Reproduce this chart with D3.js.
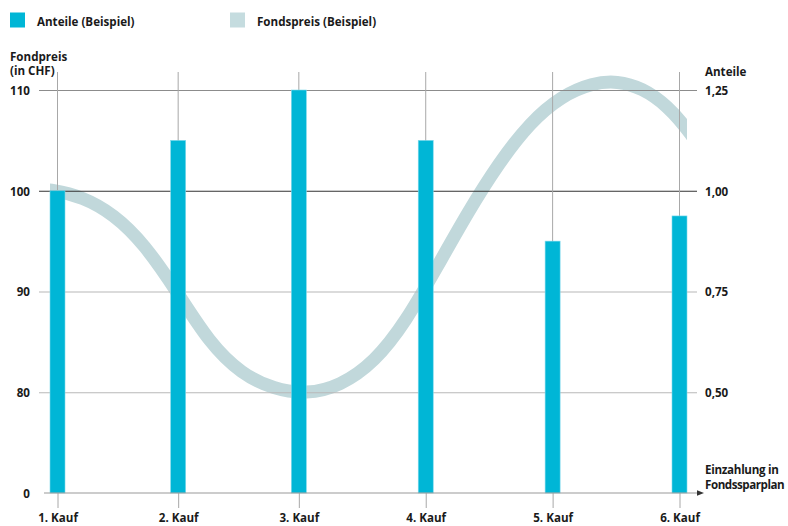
<!DOCTYPE html>
<html>
<head>
<meta charset="utf-8">
<script src="https://cdn.jsdelivr.net/npm/d3@7"></script>
<style>
  body { margin: 0; background: #fff; }
  text { font-family: 'Open Sans', sans-serif; font-weight: 700; font-size: 11.6px; fill: #1a1a1a; }
</style>
</head>
<body>
<svg id="chart" width="788" height="526"></svg>
<script>
// ── Data ───────────────────────────────────────────────────────────────────

var kaufLabels = ['1. Kauf', '2. Kauf', '3. Kauf', '4. Kauf', '5. Kauf', '6. Kauf'];
var kaufPos    = [1, 1.97, 2.94, 3.96, 4.98, 6];           // Zeitpunkt der Einzahlung
var anteile    = [1.00, 1.125, 1.25, 1.125, 0.875, 0.9375]; // gekaufte Anteile

// Fondspreis-Verlauf (Zeit, Preis in CHF)
var preisZeit  = [0.80, 0.96, 1.20, 1.45, 1.70, 1.96, 2.22, 2.48, 2.74, 3.00, 3.27,
                  3.55, 3.80, 4.05, 4.30, 4.55, 4.80, 5.05, 5.30, 5.50, 5.70, 5.90, 6.10, 6.25];
var preisWerte = [100.2, 100.1, 99.4, 97.7, 94.7, 90.0, 84.9, 81.8, 80.3, 79.8, 80.6,
                  83.0, 87.0, 92.4, 97.9, 102.8, 106.8, 109.4, 110.7, 110.9, 110.2, 108.5, 105.6, 102.6];

var preisTicks       = [110, 100, 90, 80, 70];
var preisTickLabels  = ['110', '100', '90', '80', '0'];
var anteilTicks      = [1.25, 1.00, 0.75, 0.50];
var anteilTickLabels = ['1,25', '1,00', '0,75', '0,50'];

// ── Layout ─────────────────────────────────────────────────────────────────

var BAR_W = 15;
var svg = d3.select('#chart');

var x  = d3.scaleLinear().domain([1, 6]).range([57.5, 679.5]);
var yP = d3.scaleLinear().domain([70, 110]).range([493, 90]);
var yA = d3.scaleLinear().domain([0.25, 1.25]).range([493, 90]);

function gridColor(v) {
  if (v === 100) return '#333';
  if (v === 110) return '#8c8c8c';
  return '#b8b8b8';
}

// clip for the price curve (from first to last bar edge)
svg.append('defs').append('clipPath').attr('id', 'plotclip')
  .append('rect')
  .attr('x', x(1) - BAR_W / 2)
  .attr('y', 0)
  .attr('width', x(6) - x(1) + BAR_W)
  .attr('height', 526);

// ── Fondspreis curve ───────────────────────────────────────────────────────

var preisData = preisZeit.map(function(t, i) { return { t: t, v: preisWerte[i] }; });

svg.append('path')
  .datum(preisData)
  .attr('clip-path', 'url(#plotclip)')
  .attr('fill', 'none')
  .attr('stroke', '#c1d8db')
  .attr('stroke-width', 13)
  .attr('d', d3.line()
    .curve(d3.curveBasis)
    .x(function(d) { return x(d.t); })
    .y(function(d) { return yP(d.v); }));

// ── Grid ───────────────────────────────────────────────────────────────────

var hGrid = svg.append('g')
  .attr('transform', 'translate(39,0)')
  .call(d3.axisRight(yP)
    .tickValues(preisTicks.filter(function(v) { return v !== 70; }))
    .tickSize(658)
    .tickFormat(''));
hGrid.select('.domain').remove();
hGrid.selectAll('.tick line')
  .attr('stroke', function(d) { return gridColor(d); })
  .attr('stroke-width', 1.1);

svg.append('g')
  .selectAll('line')
  .data(kaufPos)
  .join('line')
  .attr('x1', function(d) { return x(d); })
  .attr('x2', function(d) { return x(d); })
  .attr('y1', yP(110) - 18)
  .attr('y2', yP(70))
  .attr('stroke', '#a8a8a8')
  .attr('stroke-width', 1);

// ── Bars (Anteile) ─────────────────────────────────────────────────────────

svg.append('g')
  .selectAll('rect')
  .data(anteile)
  .join('rect')
  .attr('x', function(d, i) { return x(kaufPos[i]) - BAR_W / 2; })
  .attr('y', function(d) { return yA(d); })
  .attr('width', BAR_W)
  .attr('height', function(d) { return yA(0.25) - yA(d); })
  .attr('fill', '#00b6d6')
  .attr('stroke', '#7dd9ec')
  .attr('stroke-width', 0.6);

// ── Axes ───────────────────────────────────────────────────────────────────

var xAxis = svg.append('g')
  .attr('transform', 'translate(0,' + yP(70) + ')')
  .call(d3.axisBottom(x)
    .tickValues(kaufPos)
    .tickSize(15)
    .tickPadding(6)
    .tickFormat(function(d, i) { return kaufLabels[i]; }));
xAxis.select('.domain').remove();
xAxis.attr('font-size', null).attr('font-family', null);
xAxis.selectAll('.tick line').attr('stroke', '#a8a8a8');
xAxis.selectAll('text').attr('fill', null);

// base line with arrow
svg.append('line')
  .attr('x1', 44).attr('x2', 699)
  .attr('y1', yP(70)).attr('y2', yP(70))
  .attr('stroke', '#9a9a9a')
  .attr('stroke-width', 1.2);
svg.append('path')
  .attr('d', 'M' + 697 + ',' + (yP(70) - 2.8) + 'L' + 704 + ',' + yP(70) + 'L' + 697 + ',' + (yP(70) + 2.8) + 'Z')
  .attr('fill', '#333');

var leftAxis = svg.append('g')
  .attr('transform', 'translate(30,0)')
  .call(d3.axisLeft(yP)
    .tickValues(preisTicks)
    .tickSize(0)
    .tickPadding(0)
    .tickFormat(function(d, i) { return preisTickLabels[i]; }));
leftAxis.select('.domain').remove();
leftAxis.attr('font-size', null).attr('font-family', null);
leftAxis.selectAll('text').attr('dy', 4.3).attr('fill', null);

var rightAxis = svg.append('g')
  .attr('transform', 'translate(705,0)')
  .call(d3.axisRight(yA)
    .tickValues(anteilTicks)
    .tickSize(0)
    .tickPadding(0)
    .tickFormat(function(d, i) { return anteilTickLabels[i]; }));
rightAxis.select('.domain').remove();
rightAxis.attr('font-size', null).attr('font-family', null);
rightAxis.selectAll('text').attr('dy', 4.3).attr('fill', null);

// ── Titles ─────────────────────────────────────────────────────────────────

svg.append('text').attr('x', 10).attr('y', 60.5).text('Fondpreis');
svg.append('text').attr('x', 10).attr('y', 75).text('(in CHF)');
svg.append('text').attr('x', 705).attr('y', 75.5).text('Anteile');
svg.append('text').attr('x', 705).attr('y', 473.5)
  .style('letter-spacing', '-0.3px').text('Einzahlung in');
svg.append('text').attr('x', 705).attr('y', 489)
  .style('letter-spacing', '-0.45px').text('Fondssparplan');

// ── Legend ─────────────────────────────────────────────────────────────────

var legendItems = [
  { label: 'Anteile (Beispiel)',   color: '#00b6d6', x: 10 },
  { label: 'Fondspreis (Beispiel)', color: '#c5dcdf', x: 230 }
];
var legend = svg.append('g')
  .selectAll('g')
  .data(legendItems)
  .join('g')
  .attr('transform', function(d) { return 'translate(' + d.x + ',12.5)'; });
legend.append('rect')
  .attr('width', 15).attr('height', 15)
  .attr('fill', function(d) { return d.color; });
legend.append('text')
  .attr('x', 27).attr('y', 13.5)
  .text(function(d) { return d.label; });
</script>
</body>
</html>
